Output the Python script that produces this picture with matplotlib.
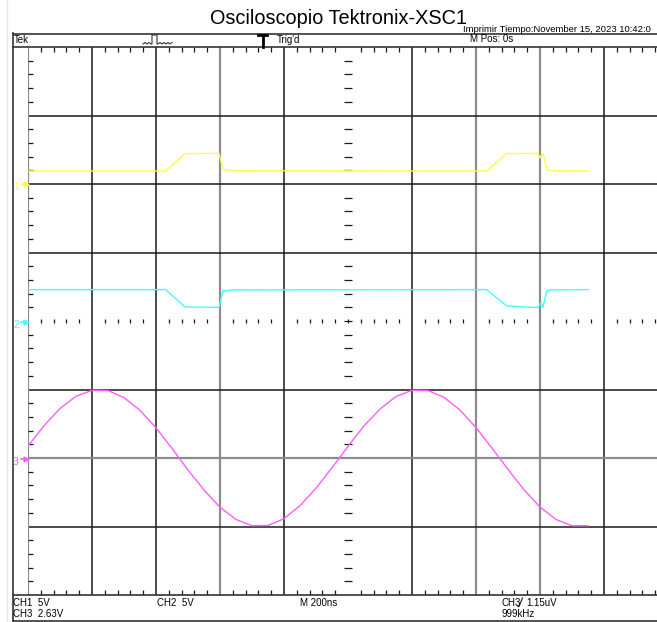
"""
Osciloscopio Tektronix-XSC1 - screen capture redrawn with matplotlib.
"""

import numpy as np
import matplotlib
matplotlib.use("Agg")
import matplotlib.pyplot as plt

plt.rcParams['font.family'] = ['Liberation Sans', 'DejaVu Sans']

# time in ns (200 ns/div)
ch1_t = [0, 430, 491, 597, 609, 640, 1433, 1496, 1594, 1600, 1609, 1621, 1631, 1750]
ch1_v = [0.95, 0.95, 2.22, 2.24, 1.09, 0.97, 0.95, 2.22, 2.24, 1.90, 2.24, 1.09, 0.97, 0.95]

ch2_t = [0, 430, 491, 597, 609, 640, 1433, 1496, 1594, 1603, 1609, 1621, 1631, 1750]
ch2_v = [2.29, 2.29, 1.02, 1.00, 2.19, 2.27, 2.29, 1.10, 0.98, 1.34, 0.98, 2.19, 2.27, 2.29]

ch3_t = [0, 50, 100, 150, 200, 250, 300, 350, 400, 450, 500, 550, 600, 650, 700,
         750, 800, 850, 900, 950, 1000, 1050, 1100, 1150, 1200, 1250, 1300, 1350,
         1400, 1450, 1500, 1550, 1600, 1650, 1700, 1750]
ch3_v = [0.46, 1.24, 1.90, 2.37, 2.60, 2.59, 2.32, 1.83, 1.16, 0.37, -0.46, -1.23,
         -1.89, -2.36, -2.60, -2.59, -2.33, -1.83, -1.16, -0.37, 0.45, 1.23, 1.88,
         2.36, 2.60, 2.59, 2.33, 1.84, 1.17, 0.38, -0.44, -1.22, -1.88, -2.36,
         -2.60, -2.60]

volts_per_div = [5.0, 5.0, 2.63]
ground_div = [2.0, 0.0, -2.0]
colors = ['#ffff40', '#40ffff', '#ff5cff']

W, H = 657, 622
fig = plt.figure(figsize=(W / 100, H / 100), dpi=100)

# screen: x 28..668 px, y 47..595 px (right edge is cut off in the capture)
x0, x1, y0, y1 = 28, 668, 47, 595
ax = fig.add_axes([x0 / W, 1 - y1 / H, (x1 - x0) / W, (y1 - y0) / H])
ax.set_xlim(0, 2000)
ax.set_ylim(-4, 4)
ax.axis('off')

px_x = 200 / 64.0   # ns per pixel
px_y = 1 / 68.5     # div per pixel

# graticule
for i in range(1, 10):
    if i == 5:
        continue
    if i in (3, 7, 8):
        ax.axvline(i * 200, color='#8c8c8c', lw=1.6, zorder=1)
    else:
        ax.axvline(i * 200, color='#1a1a1a', lw=1.1, zorder=1)
for j in [-3, -2, -1, 1, 2, 3]:
    if j == -2:
        ax.axhline(j, color='#8c8c8c', lw=1.6, zorder=1)
    else:
        ax.axhline(j, color='#1a1a1a', lw=1.1, zorder=1)
ax.axvline(0, color='#8c8c8c', lw=1.6, zorder=1)

minor_x = [x for x in np.arange(40, 2000, 40) if x % 200 != 0]
minor_y = [y for y in np.round(np.arange(-3.8, 4.0, 0.2), 2) if abs(y - round(y)) > 1e-6]

ax.vlines(minor_x, 4 - 5 * px_y, 4, color='#1a1a1a', lw=0.9, zorder=1)
ax.vlines(minor_x, -4, -4 + 5 * px_y, color='#1a1a1a', lw=0.9, zorder=1)
ax.vlines(minor_x, -2.2 * px_y, 2.2 * px_y, color='#1a1a1a', lw=0.9, zorder=1)
ax.hlines(minor_y, 0, 5 * px_x, color='#1a1a1a', lw=0.9, zorder=1)
ax.hlines(minor_y, 1000 - 4 * px_x, 1000 + 4 * px_x, color='#1a1a1a', lw=0.9, zorder=1)
ax.hlines(0, 1000 - 4 * px_x, 1000 + 4 * px_x, color='#1a1a1a', lw=0.9, zorder=1)
ax.vlines(1000, -2.2 * px_y, 2.2 * px_y, color='#1a1a1a', lw=0.9, zorder=1)

# traces
traces = [(ch1_t, ch1_v), (ch2_t, ch2_v), (ch3_t, ch3_v)]
for k, (t, v) in enumerate(traces):
    y = np.array(v) / volts_per_div[k] + ground_div[k]
    ax.plot(t, y, color=colors[k], lw=1.0, zorder=3)

# overlay in pixel coordinates for the frame and texts
ov = fig.add_axes([0, 0, 1, 1])
ov.set_xlim(0, W)
ov.set_ylim(H, 0)
ov.axis('off')
ov.patch.set_alpha(0)

ov.plot([7, 7], [0, H], color='#e6e6e6', lw=1)
ov.plot([13, 13], [33, 621], color='#333333', lw=1.2)
for yy in [33.5, 47, 595, 621]:
    ov.plot([13, W], [yy, yy], color='#333333', lw=1.2)

ov.text(210, 18, 'Osciloscopio Tektronix-XSC1', fontsize=14.3, va='center', ha='left')
ov.text(463, 29, 'Imprimir Tiempo:November 15, 2023 10:42:0', fontsize=6.8, va='center')
ov.text(470, 39.5, 'M Pos: 0s', fontsize=7, va='center')
ov.text(14, 40, 'Tek', fontsize=7, va='center')
ov.text(277, 40, "Trig'd", fontsize=7, va='center')

# trigger icon and T marker in the header
ov.plot([143, 145, 147, 149, 151, 152, 152, 157, 157, 158, 160, 162, 164, 166, 168, 170, 172],
        [44, 42.5, 44, 42.5, 44, 44, 35, 35, 44, 44, 42.5, 44, 42.5, 44, 42.5, 44, 42.5],
        color='#333333', lw=0.8)
ov.plot([258, 267], [35, 35], color='black', lw=2)
ov.plot([262.5, 262.5], [35, 47], color='black', lw=2)

# channel ground markers
for k, (yy, lab) in enumerate([(184, '1'), (321.5, '2'), (459, '3')]):
    ov.text(13, yy + 3, lab, color=colors[k], fontsize=7.5, va='center')
    ov.plot([21, 26], [yy, yy], color=colors[k], lw=1.2)
    ov.plot([26], [yy], marker='>', color=colors[k], ms=3.5)

# bottom readout
ov.text(13, 602.5, 'CH1  5V', fontsize=7, va='center')
ov.text(157, 602.5, 'CH2  5V', fontsize=7, va='center')
ov.text(300, 602.5, 'M 200ns', fontsize=7, va='center')
ov.text(501, 602.5, 'CH3', fontsize=7, va='center')
ov.plot([518, 519, 522.5], [606.5, 606.5, 598], color='#333333', lw=0.9)
ov.text(526, 602.5, '1.15uV', fontsize=7, va='center')
ov.text(13, 614, 'CH3  2.63V', fontsize=7, va='center')
ov.text(501, 614, '999kHz', fontsize=7, va='center')

fig.savefig('out.png', dpi=100)
